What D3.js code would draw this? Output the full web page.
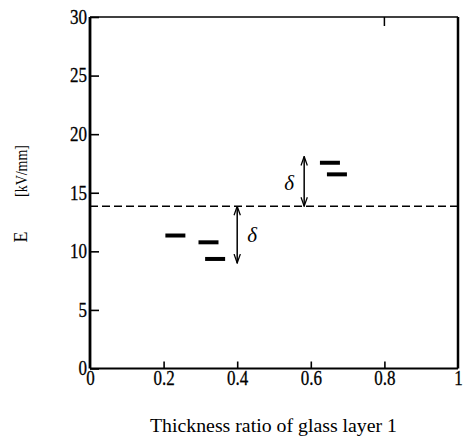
<!DOCTYPE html>
<html><head><meta charset="utf-8">
<script src="https://cdn.jsdelivr.net/npm/d3@7"></script>
<style>body{margin:0;background:#fff}svg{display:block}</style>
</head><body>
<svg id="c" width="463" height="437"></svg>
<script>
const ratio = [0.232, 0.322, 0.340, 0.652, 0.671];
const fieldE = [11.35, 10.77, 9.35, 17.56, 16.57];
const refLevel = [13.85];
const arrowX = [0.40, 0.582];
const arrowEnd = [9.0, 18.1];
const xTicks = [0, 0.2, 0.4, 0.6, 0.8, 1];
const xTickLabels = ["0", "0.2", "0.4", "0.6", "0.8", "1"];
const yTicks = [0, 5, 10, 15, 20, 25, 30];
const yTickLabels = ["0", "5", "10", "15", "20", "25", "30"];

const svg = d3.select("#c");
const L = 90, R = 458, T = 17, B = 368.5;
const x = d3.scaleLinear().domain([0, 1]).range([L, R]);
const y = d3.scaleLinear().domain([0, 30]).range([B, T]);
const font = "'Liberation Serif','Times New Roman',serif";
const sx = 0.85;

// axes
const gy = svg.append("g").attr("transform", `translate(${L},0)`)
  .call(d3.axisLeft(y).tickValues(yTicks).tickFormat((d, i) => yTickLabels[i])
    .tickSizeInner(-9).tickSizeOuter(0).tickPadding(3));
gy.select(".domain").remove();
gy.selectAll(".tick line").attr("stroke", "#000").attr("stroke-width", 1.6);
gy.selectAll(".tick text").attr("font-family", font).attr("font-size", 20).attr("fill", "#000")
  .attr("stroke", "#000").attr("stroke-width", 0.3)
  .attr("x", -3 / sx).attr("transform", `scale(${sx},1)`);

const gx = svg.append("g").attr("transform", `translate(0,${B})`)
  .call(d3.axisBottom(x).tickValues(xTicks).tickFormat((d, i) => xTickLabels[i])
    .tickSizeInner(-7).tickSizeOuter(0).tickPadding(2));
gx.select(".domain").remove();
gx.selectAll(".tick line").attr("stroke", "#000").attr("stroke-width", 1.6)
  .filter(d => d === 0 || d === 1).remove();
gx.selectAll(".tick text").attr("font-family", font).attr("font-size", 20).attr("fill", "#000")
  .attr("stroke", "#000").attr("stroke-width", 0.3)
  .attr("transform", `scale(${sx},1)`)
  .attr("x", d => 0);

// frame
svg.append("line").attr("x1", L).attr("x2", R).attr("y1", T).attr("y2", T)
  .attr("stroke", "#000").attr("stroke-width", 1.5);
svg.append("line").attr("x1", R).attr("x2", R).attr("y1", T).attr("y2", B)
  .attr("stroke", "#000").attr("stroke-width", 2.5);
svg.append("line").attr("x1", L).attr("x2", R).attr("y1", B).attr("y2", B)
  .attr("stroke", "#000").attr("stroke-width", 2.2);
svg.append("line").attr("x1", L).attr("x2", L).attr("y1", T).attr("y2", B)
  .attr("stroke", "#000").attr("stroke-width", 2.8);
// top tick at 0.8
svg.append("line").attr("x1", x(0.8)).attr("x2", x(0.8)).attr("y1", T).attr("y2", T + 9)
  .attr("stroke", "#000").attr("stroke-width", 1.5);

// reference dashed line
svg.selectAll(".ref").data(refLevel).enter().append("line")
  .attr("x1", L).attr("x2", R).attr("y1", d => y(d)).attr("y2", d => y(d))
  .attr("stroke", "#000").attr("stroke-width", 1.5).attr("stroke-dasharray", "8,4");

// data segments
svg.selectAll(".seg").data(ratio).enter().append("line")
  .attr("x1", d => x(d) - 10).attr("x2", d => x(d) + 10)
  .attr("y1", (d, i) => y(fieldE[i])).attr("y2", (d, i) => y(fieldE[i]))
  .attr("stroke", "#000").attr("stroke-width", 4);

// arrows
const defs = svg.append("defs");
defs.append("marker").attr("id", "ah").attr("viewBox", "0 0 10 10")
  .attr("refX", 10).attr("refY", 5).attr("markerWidth", 10).attr("markerHeight", 9)
  .attr("markerUnits", "userSpaceOnUse").attr("orient", "auto-start-reverse")
  .append("path").attr("d", "M0,1.5 L10,5 L0,8.5").attr("fill", "none").attr("stroke", "#000").attr("stroke-width", 1.4);
svg.selectAll(".arr").data(arrowX).enter().append("line")
  .attr("x1", d => x(d)).attr("x2", d => x(d))
  .attr("y1", y(refLevel[0])).attr("y2", (d, i) => y(arrowEnd[i]))
  .attr("stroke", "#000").attr("stroke-width", 1.5)
  .attr("marker-start", "url(#ah)").attr("marker-end", "url(#ah)");

// delta labels
svg.append("text").attr("x", x(arrowX[0]) + 10).attr("y", 242).text("δ")
  .attr("font-family", font).attr("font-style", "italic").attr("font-size", 21).attr("fill", "#000");
svg.append("text").attr("x", x(arrowX[1]) - 20).attr("y", 190).text("δ")
  .attr("font-family", font).attr("font-style", "italic").attr("font-size", 21).attr("fill", "#000");

// axis titles
svg.append("text").attr("transform", "translate(27,237) rotate(-90)").attr("text-anchor", "middle")
  .attr("font-family", font).attr("font-size", 18).attr("fill", "#000").text("E");
svg.append("text").attr("transform", "translate(27,171) rotate(-90)").attr("text-anchor", "middle")
  .attr("font-family", font).attr("font-size", 16).attr("fill", "#000")
  .attr("textLength", 52).attr("lengthAdjust", "spacingAndGlyphs").text("[kV/mm]");
svg.append("text").attr("x", 150).attr("y", 432)
  .attr("font-family", font).attr("font-size", 18).attr("fill", "#000")
  .attr("textLength", 247).attr("lengthAdjust", "spacingAndGlyphs")
  .text("Thickness ratio of glass layer 1");
</script>
</body></html>
